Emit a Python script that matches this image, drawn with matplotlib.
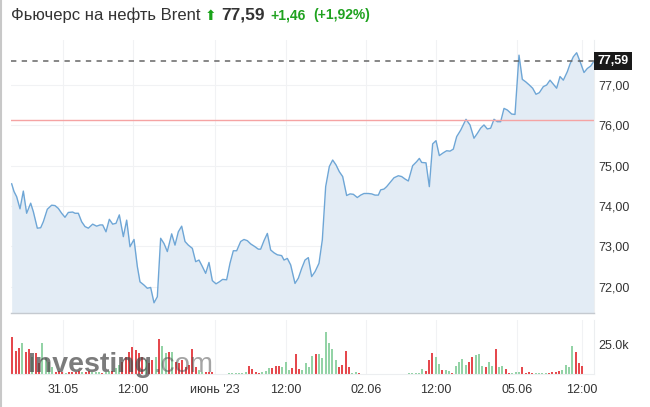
import numpy as np
import matplotlib
matplotlib.use("Agg")
import matplotlib.pyplot as plt

plt.rcParams['font.family'] = ['Liberation Sans', 'DejaVu Sans']

# price trace, t in 30-minute bars from the left edge
t = [0.23, 1.03, 1.94, 3.09, 4.23, 5.37, 6.75, 7.66, 9.03, 10.18, 11.09, 12.46, 13.95, 15.09,
     16.24, 17.38, 18.52, 19.67, 21.15, 21.96, 23.10, 24.24, 25.39, 26.53, 28.02, 29.39, 30.53,
     31.45, 32.59, 33.73, 34.88, 36.02, 37.16, 38.54, 39.68, 40.82, 42.20, 43.34, 44.25, 45.63,
     46.77, 47.91, 49.06, 50.20, 51.34, 52.49, 53.63, 55.12, 56.26, 57.40, 58.55, 59.69, 60.83,
     62.21, 63.35, 64.49, 65.64, 66.78, 67.92, 69.07, 70.33, 71.47, 72.61, 73.98, 75.13, 76.27,
     77.42, 78.79, 79.93, 81.08, 82.22, 83.71, 84.85, 85.65, 86.79, 87.94, 89.08, 90.22, 91.37,
     92.85, 93.65, 94.80, 95.94, 97.43, 98.57, 99.71, 100.86, 102.00, 103.14, 104.29, 105.66,
     106.80, 107.95, 109.21, 110.35, 111.49, 112.64, 113.78, 115.15, 116.30, 117.44, 118.81,
     119.95, 121.10, 122.58, 123.73, 124.87, 126.02, 126.82, 127.96, 128.87, 130.02, 131.39,
     132.88, 134.02, 135.16, 136.31, 137.79, 139.17, 140.08, 140.88, 142.37, 143.51, 144.65,
     145.80, 146.94, 148.31, 149.46, 150.60, 151.74, 152.89, 154.26, 156.09, 157.46, 158.83,
     159.98, 161.12, 162.26, 163.41, 164.55, 165.70, 166.84, 167.98, 169.13, 170.27, 171.76,
     172.90, 174.27, 175.41, 176.56, 177.81, 178.96, 180.10, 181.25, 182.62, 183.76, 184.91,
     186.05, 187.19, 188.34, 189.48, 190.85, 191.77, 192.91, 194.05, 195.43, 196.57, 197.71,
     198.86, 200.00]
price = [74.55, 74.36, 74.23, 73.93, 74.37, 73.82, 74.07, 73.86, 73.45, 73.46, 73.61, 73.92,
         74.02, 74.01, 73.94, 73.82, 73.72, 73.84, 73.85, 73.82, 73.82, 73.61, 73.49, 73.45,
         73.55, 73.50, 73.53, 73.53, 73.36, 73.67, 73.55, 73.57, 73.78, 73.24, 73.65, 72.99,
         73.17, 72.50, 72.12, 72.04, 71.96, 71.98, 71.60, 71.75, 73.20, 73.07, 72.87, 73.31,
         73.03, 73.36, 73.50, 73.12, 73.03, 72.95, 72.62, 72.66, 72.50, 72.33, 72.60, 72.15,
         72.07, 72.12, 72.18, 72.17, 72.58, 72.89, 72.89, 73.12, 73.17, 73.14, 73.06, 72.99,
         72.93, 72.93, 73.14, 73.32, 72.91, 72.84, 72.79, 72.77, 72.66, 72.70, 72.54, 72.08,
         72.21, 72.45, 72.66, 72.72, 72.25, 72.37, 72.58, 73.16, 74.48, 74.98, 75.14, 75.02,
         74.85, 74.73, 74.26, 74.30, 74.29, 74.21, 74.27, 74.31, 74.31, 74.30, 74.27, 74.27,
         74.40, 74.42, 74.48, 74.58, 74.70, 74.75, 74.73, 74.67, 74.62, 75.00, 75.10, 75.18,
         75.08, 75.07, 74.48, 75.54, 75.62, 75.25, 75.32, 75.37, 75.36, 75.41, 75.72, 75.88,
         76.15, 76.01, 75.68, 75.80, 75.93, 76.01, 75.91, 75.93, 76.15, 76.09, 76.09, 76.42,
         76.38, 76.28, 76.27, 77.74, 77.14, 77.08, 77.00, 76.92, 76.77, 76.81, 76.96, 77.00,
         77.12, 77.02, 76.92, 77.21, 77.12, 77.33, 77.52, 77.70, 77.80, 77.54, 77.31, 77.41,
         77.47, 77.59]

last_price = 77.59
prev_close = 76.13

# volume (thousands), one candle each, r = down, g = up
volume = [31.6, 20.1, 22.1, 26.4, 19.2, 21.2, 14.9, 17.8, 9.2, 26.4, 13.5, 10.6, 6.3, 2.0,
          2.9, 2.0, 1.1, 1.4, 1.7, 2.0, 2.3, 1.7, 2.0, 2.3, 1.7, 1.4, 1.7, 1.1, 1.7, 2.3, 2.6,
          4.9, 7.7, 10.6, 14.9, 19.2, 23.5, 20.7, 17.8, 14.9, 12.1, 9.2, 12.1, 14.9, 29.8, 24.1,
          17.8, 19.2, 19.2, 10.6, 9.2, 12.1, 6.3, 7.7, 21.2, 5.7, 3.4, 2.0, 1.7, 1.7, 1.7, 0.3,
          0.3, 0.3, 0.3, 0.9, 0.6, 1.1, 0.6, 1.1, 2.0, 6.9, 4.0, 2.0, 1.1, 1.7, 2.6, 4.9, 4.9,
          6.9, 6.9, 5.7, 10.0, 3.4, 4.9, 17.2, 4.0, 3.4, 9.2, 6.3, 15.8, 17.2, 16.9, 13.5, 36.4,
          26.4, 21.2, 12.1, 5.7, 7.7, 20.1, 5.7, 1.1, 1.4, 1.1, 0.3, 0.3, 0.3, 0.0, 0.0, 0.3,
          0.3, 0.3, 0.3, 0.3, 0.0, 0.0, 0.0, 0.0, 0.6, 1.1, 1.1, 1.1, 4.0, 2.9, 12.1, 17.8, 14.4,
          8.6, 3.4, 3.4, 2.6, 1.1, 6.9, 10.6, 12.6, 7.7, 10.6, 14.9, 16.4, 17.2, 6.9, 5.7, 10.6,
          6.9, 21.2, 6.3, 6.9, 4.0, 1.1, 0.6, 1.4, 1.4, 5.7, 1.1, 1.7, 1.1, 0.6, 0.6, 0.6, 0.6,
          0.9, 1.4, 1.4, 2.6, 3.4, 7.7, 6.3, 24.1, 19.2, 9.2, 6.9]
vol_dir = ("rrrgrrgrrggggrrrgrrrrgrrgggrggrggrrrrrrrgrrgrggrgrrrrrrrggrrrr"
           "ggggggggg" "rrrrgggrrrgggrrrggggrggg" "g" "ggrrrrggrrgggggggggggggggg"
           "ggrrrggrggrggggrrgggrggrggrrgggrrrrggggrrrrggggrr")
vol_start, vol_step = 0.46, 1.1435

tick_pos = [17.8, 41.9, 70.0, 94.3, 121.8, 145.8, 173.5, 195.8]
tick_lab = ['31.05', '12:00', "июнь '23", '12:00', '02.06', '12:00', '05.06', '12:00']
y_ticks = [72, 73, 74, 75, 76, 77]
vol_ticks = [25]

c_line = '#6ea6d6'
c_fill = '#e3ecf5'
c_grid = '#f1f2f4'
c_text = '#333333'

fig = plt.figure(figsize=(6.5, 4.07), dpi=100)
ax = fig.add_axes([11/650, 1-313/407, 583/650, 273/407])
axv = fig.add_axes([11/650, 1-374/407, 583/650, 54/407])

ymin, ymax = 71.347, 78.116
ax.fill_between(t, price, ymin, color=c_fill, lw=0)
ax.plot(t, price, color=c_line, lw=1.0)
ax.axhline(prev_close, color='#f5a3a3', lw=1.0)
ax.axhline(last_price, color='#666666', lw=1.1, ls=(0, (3.5, 3.5)))
ax.set_xlim(0, 200)
ax.set_ylim(ymin, ymax)
ax.set_xticks(tick_pos)
ax.set_xticklabels([])
ax.set_yticks(y_ticks)
ax.set_yticklabels([f"{v:.2f}".replace('.', ',') for v in y_ticks])
ax.yaxis.tick_right()
ax.tick_params(axis='y', length=0, pad=3, labelsize=9, labelcolor=c_text)
ax.tick_params(axis='x', length=0)
ax.grid(True, color=c_grid, lw=0.8)
ax.set_axisbelow(True)
for s in ['top', 'left']:
    ax.spines[s].set_visible(False)
ax.spines['right'].set_color('#eceef0')
ax.spines['bottom'].set_color('#c5cad0')
ax.spines['bottom'].set_linewidth(1.0)

# price box
ax.text(1.006, (last_price - ymin) / (ymax - ymin), f"{last_price:.2f}".replace('.', ','),
        transform=ax.transAxes, ha='left', va='center', fontsize=9, fontweight='bold',
        color='white', bbox=dict(boxstyle='square,pad=0.25', fc='#1a1a1a', ec='none'))

vx = vol_start + np.arange(len(volume)) * vol_step
colors = ['#e5484d' if d == 'r' else '#93d3a6' for d in vol_dir[:len(volume)]]
axv.bar(vx, volume, width=0.6, color=colors, lw=0)
axv.set_xlim(0, 200)
axv.set_ylim(0, 46.5)
axv.set_xticks(tick_pos)
axv.set_xticklabels(tick_lab)
axv.set_yticks(vol_ticks)
axv.set_yticklabels([f"{v:.1f}k" for v in vol_ticks])
axv.yaxis.tick_right()
axv.tick_params(axis='y', length=0, pad=3, labelsize=9, labelcolor=c_text)
axv.tick_params(axis='x', length=0, pad=7, labelsize=9, labelcolor=c_text)
axv.grid(True, axis='x', color=c_grid, lw=0.8)
axv.set_axisbelow(True)
for s in ['top', 'left']:
    axv.spines[s].set_visible(False)
axv.spines['right'].set_color('#eceef0')
axv.spines['bottom'].set_color('#eceef0')

# watermark
axv.text(16/583, 0.03, "Investing", transform=axv.transAxes, fontsize=20.5, fontweight='bold',
         color='#4a4a4a', alpha=0.72, ha='left', va='baseline')
axv.text(143/583, 0.03, ".com", transform=axv.transAxes, fontsize=20,
         color='#4a4a4a', alpha=0.5, ha='left', va='baseline')

# header
fig.text(11/650, 1-15/407, "Фьючерс на нефть Brent", fontsize=12, color=c_text, va='center')
fig.text(205/650, 1-16/407, "⬆", fontsize=10, color='#19a319', va='center',
         family='DejaVu Sans')
fig.text(221/650, 1-15/407, "77,59", fontsize=12.5, fontweight='bold', color=c_text,
         va='center')
fig.text(270/650, 1-15/407, "+1,46", fontsize=10, fontweight='bold',
         color='#1fa21f', va='center')
fig.text(313/650, 1-15/407, "(+1,92%)", fontsize=10, fontweight='bold',
         color='#1fa21f', va='center')

# left frame line
fig.add_artist(plt.Line2D([1/650, 1/650], [0, 1], color='#c8c8c8', lw=1.5))

fig.savefig("out.png", dpi=100, facecolor='white')
